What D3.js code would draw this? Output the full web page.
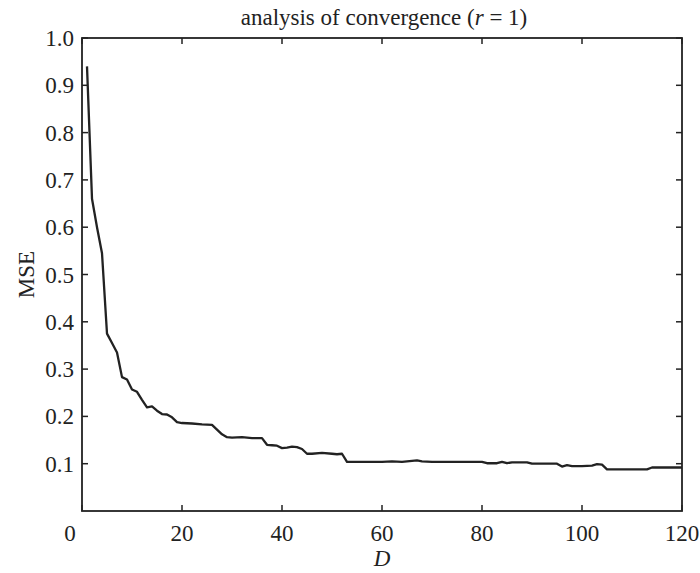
<!DOCTYPE html>
<html><head><meta charset="utf-8">
<script src="https://cdn.jsdelivr.net/npm/d3@7"></script>
<style>body{margin:0;background:#fff}svg{display:block}text{font-family:"Liberation Serif","Times New Roman",serif;fill:#222}</style>
</head><body><svg id="c" width="700" height="573"></svg>
<script>
const dValues = [1,2,3,4,5,6,7,8,9,10,11,12,13,14,15,16,17,18,19,20,22,24,26,27,28,29,30,32,34,36,37,38,39,40,41,42,43,44,45,46,48,50,51,52,53,55,60,62,64,66,67,68,70,75,80,81,83,84,85,86,89,90,95,96,97,98,100,102,103,104,105,106,110,113,114,116,120];
const mseValues = [0.94,0.66,0.60,0.545,0.375,0.355,0.335,0.283,0.278,0.257,0.252,0.235,0.219,0.221,0.212,0.205,0.204,0.198,0.188,0.186,0.185,0.183,0.182,0.172,0.162,0.156,0.155,0.156,0.154,0.154,0.140,0.139,0.138,0.133,0.134,0.136,0.135,0.131,0.121,0.121,0.123,0.121,0.120,0.121,0.104,0.104,0.104,0.105,0.104,0.106,0.107,0.105,0.104,0.104,0.104,0.101,0.101,0.104,0.101,0.103,0.103,0.100,0.100,0.094,0.097,0.095,0.095,0.096,0.099,0.098,0.088,0.088,0.088,0.088,0.092,0.092,0.092];
const xTicks = [0,20,40,60,80,100,120];
const yTicks = [0.1,0.2,0.3,0.4,0.5,0.6,0.7,0.8,0.9,1.0];

const svg = d3.select("#c");
const L=82, R=682, T=38, B=511;
const x = d3.scaleLinear().domain([0,120]).range([L,R]);
const y = d3.scaleLinear().domain([0,1]).range([B,T]);
const fs = 23;

const g = svg.append("g");
const tk = 6;
xTicks.forEach(t=>{
  g.append("line").attr("x1",x(t)).attr("x2",x(t)).attr("y1",B).attr("y2",B-tk).attr("stroke","#222").attr("stroke-width",1.5);
  g.append("line").attr("x1",x(t)).attr("x2",x(t)).attr("y1",T).attr("y2",T+tk).attr("stroke","#222").attr("stroke-width",1.5);
  g.append("text").attr("x",x(t)-(t===0?12:0)).attr("y",B+30).attr("text-anchor","middle").attr("font-size",fs).text(t);
});
yTicks.forEach(t=>{
  g.append("line").attr("x1",L).attr("x2",L+tk).attr("y1",y(t)).attr("y2",y(t)).attr("stroke","#222").attr("stroke-width",1.5);
  g.append("line").attr("x1",R).attr("x2",R-tk).attr("y1",y(t)).attr("y2",y(t)).attr("stroke","#222").attr("stroke-width",1.5);
  g.append("text").attr("x",L-8).attr("y",y(t)).attr("dy","0.35em").attr("text-anchor","end").attr("font-size",fs).text(d3.format(".1f")(t));
});
svg.append("rect").attr("x",L).attr("y",T).attr("width",R-L).attr("height",B-T).attr("fill","none").attr("stroke","#222").attr("stroke-width",1.8);

const data = dValues.map((d,i)=>[d,mseValues[i]]);
svg.append("path").datum(data).attr("fill","none").attr("stroke","#222").attr("stroke-width",2.3).attr("stroke-linejoin","round")
  .attr("d", d3.line().x(d=>x(d[0])).y(d=>y(d[1])));

const title = svg.append("text").attr("x",384).attr("y",25).attr("text-anchor","middle").attr("font-size",23);
title.append("tspan").text("analysis of convergence (");
title.append("tspan").attr("font-style","italic").text("r");
title.append("tspan").text(" = 1)");

svg.append("text").attr("x",(L+R)/2).attr("y",566).attr("text-anchor","middle").attr("font-size",fs).attr("font-style","italic").text("D");
svg.append("text").attr("transform",`translate(34,${(T+B)/2}) rotate(-90)`).attr("text-anchor","middle").attr("font-size",fs).text("MSE");
</script></body></html>
